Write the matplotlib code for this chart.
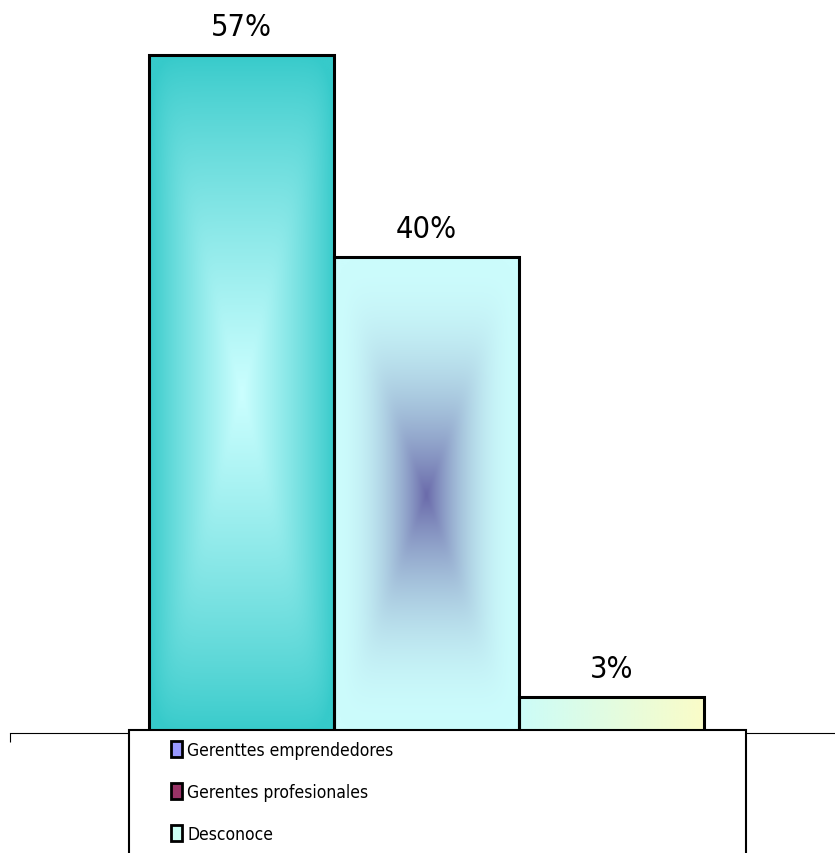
import numpy as np
import matplotlib
matplotlib.use("Agg")
import matplotlib.pyplot as plt
from matplotlib import font_manager as fm
from matplotlib.colors import to_rgb
from matplotlib.patches import Patch, Rectangle

categories = ["Gerenttes emprendedores", "Gerentes profesionales", "Desconoce"]
values = [57, 40, 3]
value_labels = ["57%", "40%", "3%"]
legend_colors = ["#9999ff", "#993366", "#ccfff4"]


def narrow_font():
    # a condensed face if one is installed, else None
    for fam, stretch in [("Liberation Sans Narrow", "normal"),
                         ("DejaVu Sans", "condensed")]:
        try:
            path = fm.findfont(fm.FontProperties(family=fam, stretch=stretch),
                               fallback_to_default=False)
        except ValueError:
            continue
        if "Narrow" in path or "Condensed" in path:
            return path
    return None


narrow = narrow_font()
if narrow:
    label_font = fm.FontProperties(fname=narrow, size=22)
    legend_font = fm.FontProperties(fname=narrow, size=12.5)
else:
    label_font = fm.FontProperties(family="DejaVu Sans", size=19.5)
    legend_font = fm.FontProperties(family="DejaVu Sans", size=10.5)

W, H = 835, 854
fig = plt.figure(figsize=(W / 100, H / 100), dpi=100)

# axes: baseline at y=734 px, 11.9 px per percent, 185 px per bar
base_y = 734
ax = fig.add_axes([10 / W, (H - base_y) / H, (W - 10) / W, base_y / H])
xmin = -0.5 - (149 - 10) / 185
xmax = xmin + (W - 10) / 185
ymax = base_y / 11.9


def rect_gradient(edge, center, power, nx=120, ny=400, p=10):
    u = np.linspace(-1, 1, nx)
    v = np.linspace(-1, 1, ny)
    U, V = np.meshgrid(u, v)
    d = (np.abs(U) ** p + np.abs(V) ** p) ** (1 / p)
    t = np.clip(1 - d, 0, 1) ** power
    e, c = np.array(to_rgb(edge)), np.array(to_rgb(center))
    return e + (c - e) * t[..., None]


def linear_gradient(left, right, nx=120, ny=20):
    t = np.tile(np.linspace(0, 1, nx), (ny, 1))
    l, r = np.array(to_rgb(left)), np.array(to_rgb(right))
    return l + (r - l) * t[..., None]


fills = [
    rect_gradient("#36caca", "#ccffff", 0.85),
    rect_gradient("#ccfcfc", "#6a6aaa", 2.0),
    linear_gradient("#ccfcf8", "#fafcc8"),
]

x = np.arange(len(values))
bars = ax.bar(x, values, width=1.0, facecolor="none", edgecolor="black",
              linewidth=2.2, zorder=3)

for bar, img, lab in zip(bars, fills, value_labels):
    x0, w, h = bar.get_x(), bar.get_width(), bar.get_height()
    im = ax.imshow(img, extent=(x0, x0 + w, 0, h), origin="lower",
                   aspect="auto", interpolation="bilinear", zorder=2)
    im.set_clip_path(bar)
    ax.annotate(lab, (x0 + w / 2, h), xytext=(0, 14.5), textcoords="offset points",
                ha="center", va="baseline", fontproperties=label_font)

ax.set_xlim(xmin, xmax)
ax.set_ylim(0, ymax)
for side in ["left", "right", "top"]:
    ax.spines[side].set_visible(False)
ax.spines["bottom"].set_linewidth(0.8)
ax.set_yticks([])
ax.set_xticks([xmin])
ax.set_xticklabels([""])
ax.tick_params(axis="x", direction="out", length=6.5, width=0.8)
ax.patch.set_alpha(0)

# legend box running off the bottom edge
box = Rectangle((129 / W, -0.05), (746 - 129) / W, (H - 731) / H + 0.05,
                transform=fig.transFigure, facecolor="white", edgecolor="black",
                linewidth=1.5, zorder=5)
fig.patches.append(box)

fs_px = legend_font.get_size() * 100 / 72
handles = [Patch(facecolor=c, edgecolor="black", linewidth=2) for c in legend_colors]
leg = fig.legend(handles, categories, loc="upper left",
                 bbox_to_anchor=(171 / W, (H - 742) / H),
                 frameon=False, borderpad=0, borderaxespad=0,
                 handlelength=11 / fs_px, handleheight=18 / fs_px,
                 handletextpad=0.3, labelspacing=(42 - max(18, fs_px)) / fs_px,
                 prop=legend_font)
leg.set_zorder(6)

fig.savefig("out.png", dpi=100)
